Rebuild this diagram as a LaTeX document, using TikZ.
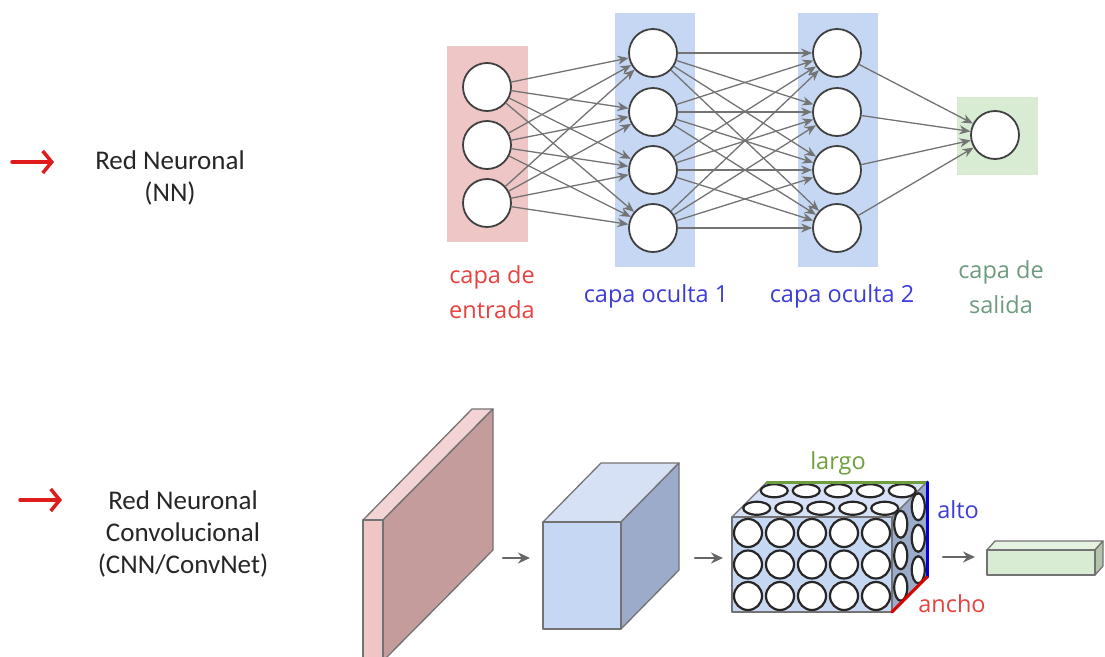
\documentclass[tikz,border=0pt]{standalone}
\usepackage{fontspec}
\setmainfont{Carlito}
\newfontfamily\etiq{Open Sans}
\usetikzlibrary{arrows.meta}

\definecolor{rosacapa}{HTML}{EFC6C6}
\definecolor{azulcapa}{HTML}{C6D7F3}
\definecolor{verdecapa}{HTML}{D8EBD3}
\definecolor{rojotxt}{HTML}{E8413F}
\definecolor{azultxt}{HTML}{3C3CD6}
\definecolor{verdetxt}{HTML}{6E9A80}
\definecolor{verdelargo}{HTML}{6E9E3E}
\definecolor{rosaosc}{HTML}{C49C9C}
\definecolor{rosaclaro}{HTML}{F3D3D3}
\definecolor{azulclaro}{HTML}{D6E1F6}
\definecolor{azulosc}{HTML}{9BABC9}
\definecolor{verdeclaro}{HTML}{E6F2E1}
\definecolor{verdeosc}{HTML}{B3C4AB}
\definecolor{rojoflecha}{HTML}{E01B1B}

\tikzset{
  neurona/.style={circle,draw=black!75,line width=1.8pt,fill=white,minimum size=48pt,inner sep=0pt},
  enlace/.style={-{Stealth[length=11pt,width=9pt]},draw=black!55,line width=1.3pt},
  cara/.style={draw=black!55,line width=1.3pt,line join=round},
  celda/.style={draw=black!85,line width=2.2pt,fill=white},
  etiqueta/.style={font=\etiq\fontsize{23.5}{35}\selectfont,align=center},
  titulo/.style={font=\fontsize{27}{32}\selectfont,align=center,text=black!85},
  flecharoja/.style={-{Straight Barb[length=9pt,width=22pt]},draw=rojoflecha,line width=3.5pt},
  flechagris/.style={-{Stealth[length=12pt,width=11pt]},draw=black!60,line width=2.5pt}
}

\begin{document}
\begin{tikzpicture}[x=1pt,y=-1pt,line cap=round]

\useasboundingbox (0,0) rectangle (1105,656);

% Red neuronal: fondos de las capas
\fill[rosacapa] (447,46) rectangle (528,242);
\fill[azulcapa] (615,13) rectangle (695,267);
\fill[azulcapa] (798,13) rectangle (878,267);
\fill[verdecapa] (957,97) rectangle (1038,175);

% Neuronas
\foreach \i/\y in {1/87,2/145,3/203}
  \node[neurona] (e\i) at (487,\y) {};
\foreach \i/\y in {1/53,2/112,3/170,4/228}{
  \node[neurona] (a\i) at (653,\y) {};
  \node[neurona] (b\i) at (837,\y) {};
}
\node[neurona] (s) at (995,135) {};

% Conexiones
\foreach \i in {1,2,3}
  \foreach \j in {1,...,4}
    \draw[enlace] (e\i) -- (a\j);
\foreach \i in {1,...,4}
  \foreach \j in {1,...,4}
    \draw[enlace] (a\i) -- (b\j);
\foreach \i in {1,...,4}
  \draw[enlace] (b\i) -- (s);

% Nombres de las capas
\node[etiqueta,text=rojotxt] (tEntrada) at (492,292) {capa de\\entrada};
\node[etiqueta,text=azultxt] (tOculta1) at (656,296) {capa oculta 1};
\node[etiqueta,text=azultxt] (tOculta2) at (842,296) {capa oculta 2};
\node[etiqueta,text=verdetxt] (tSalida) at (1001,287) {capa de\\salida};

% Textos de la izquierda
\coordinate (pNN) at (12,162);
\coordinate (qNN) at (54,162);
\draw[flecharoja] (pNN) -- (qNN);
\node[titulo] (tNN) at (170,178) {Red Neuronal\\(NN)};

\coordinate (pCNN) at (20,500);
\coordinate (qCNN) at (62,500);
\draw[flecharoja] (pCNN) -- (qCNN);
\node[titulo] (tCNN) at (183,534) {Red Neuronal\\Convolucional\\(CNN/ConvNet)};

% Capa de entrada (placa rosa)
\filldraw[cara,fill=rosaclaro] (363,520) -- (472,409) -- (493,409) -- (383,520) -- cycle;
\filldraw[cara,fill=rosaosc] (383,520) -- (493,409) -- (493,550) -- (383,661) -- cycle;
\filldraw[cara,fill=rosacapa] (363,520) rectangle (383,661);

% Cubo azul
\filldraw[cara,fill=azulclaro] (543,522) -- (601,463) -- (679,463) -- (621,522) -- cycle;
\filldraw[cara,fill=azulosc] (621,522) -- (679,463) -- (679,570) -- (621,629) -- cycle;
\filldraw[cara,fill=azulcapa] (543,522) rectangle (621,629);

% Bloque con neuronas
\def\dx{35} % profundidad
\filldraw[cara,fill=azulclaro] (732,517) -- (767,482) -- (927,482) -- (892,517) -- cycle;
\filldraw[cara,fill=azulosc] (892,517) -- (927,482) -- (927,577) -- (892,612) -- cycle;
\filldraw[cara,fill=azulcapa] (732,517) rectangle (892,612);
\foreach \p in {0.75,0.25}{
  \foreach \c in {0,...,4}
    \draw[celda] (748+32*\c+\dx*\p,517-\dx*\p) ellipse (13.5 and 6.5);
  \foreach \f in {0,1,2}
    \draw[celda] (892+\dx*\p,533+31.5*\f-\dx*\p) ellipse (6.5 and 13.5);
}
\foreach \c in {0,...,4}
  \foreach \f in {0,1,2}
    \draw[celda] (748+32*\c,533+31.5*\f) circle (14);

% Dimensiones
\coordinate (dA) at (767,482);
\coordinate (dB) at (927,482);
\coordinate (dC) at (927,577);
\coordinate (dD) at (892,612);
\draw[verdelargo,line width=3pt] (dA) -- (dB);
\draw[blue!85!black,line width=3pt] (dB) -- (dC);
\draw[red!85!black,line width=3pt] (dC) -- (dD);
\node[etiqueta,text=verdelargo] (tLargo) at (838,463) {largo};
\node[etiqueta,text=azultxt] (tAlto) at (958,510) {alto};
\node[etiqueta,text=rojotxt] (tAncho) at (952,604) {ancho};

% Capa de salida (barra verde)
\filldraw[cara,fill=verdeclaro] (987,550) -- (995,541) -- (1103,541) -- (1095,550) -- cycle;
\filldraw[cara,fill=verdeosc] (1095,550) -- (1103,541) -- (1103,566) -- (1095,575) -- cycle;
\filldraw[cara,fill=verdecapa] (987,550) rectangle (1095,575);

% Flechas entre bloques
\coordinate (f1) at (503,558);
\coordinate (f2) at (530,558);
\coordinate (f3) at (695,558);
\coordinate (f4) at (723,558);
\coordinate (f5) at (943,557);
\coordinate (f6) at (975,557);
\draw[flechagris] (f1) -- (f2);
\draw[flechagris] (f3) -- (f4);
\draw[flechagris] (f5) -- (f6);

\end{tikzpicture}
\end{document}
